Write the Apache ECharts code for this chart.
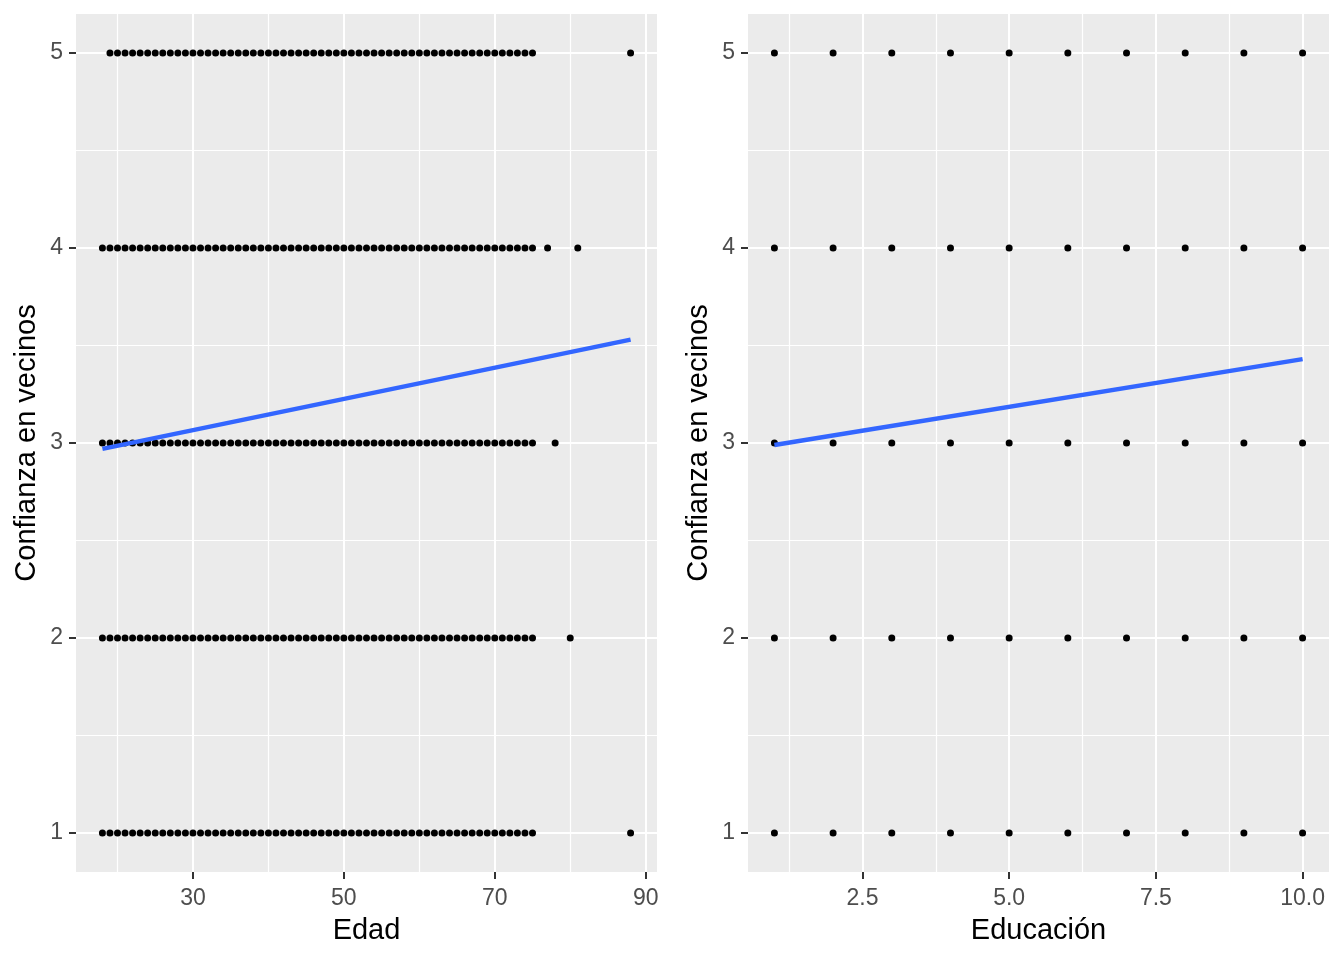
<!DOCTYPE html>
<html>
<head>
<meta charset="utf-8">
<script src="https://cdn.jsdelivr.net/npm/echarts@6/dist/echarts.min.js"></script>
<style>
  html, body { margin: 0; padding: 0; background: #fff; }
  #main { width: 1344px; height: 960px; }
</style>
</head>
<body>
<div id="main"></div>
<script>
// edades observadas por nivel de confianza (1..5)
var edad1 = [18,19,20,21,22,23,24,25,26,27,28,29,30,31,32,33,34,35,36,37,38,39,40,41,42,43,44,45,46,47,48,49,50,51,52,53,54,55,56,57,58,59,60,61,62,63,64,65,66,67,68,69,70,71,72,73,74,75,88];
var edad2 = [18,19,20,21,22,23,24,25,26,27,28,29,30,31,32,33,34,35,36,37,38,39,40,41,42,43,44,45,46,47,48,49,50,51,52,53,54,55,56,57,58,59,60,61,62,63,64,65,66,67,68,69,70,71,72,73,74,75,80];
var edad3 = [18,19,20,21,22,23,24,25,26,27,28,29,30,31,32,33,34,35,36,37,38,39,40,41,42,43,44,45,46,47,48,49,50,51,52,53,54,55,56,57,58,59,60,61,62,63,64,65,66,67,68,69,70,71,72,73,74,75,78];
var edad4 = [18,19,20,21,22,23,24,25,26,27,28,29,30,31,32,33,34,35,36,37,38,39,40,41,42,43,44,45,46,47,48,49,50,51,52,53,54,55,56,57,58,59,60,61,62,63,64,65,66,67,68,69,70,71,72,73,74,75,77,81];
var edad5 = [19,20,21,22,23,24,25,26,27,28,29,30,31,32,33,34,35,36,37,38,39,40,41,42,43,44,45,46,47,48,49,50,51,52,53,54,55,56,57,58,59,60,61,62,63,64,65,66,67,68,69,70,71,72,73,74,75,88];

// niveles de educacion observados en cada nivel de confianza
var educ1 = [1,2,3,4,5,6,7,8,9,10];
var educ2 = [1,2,3,4,5,6,7,8,9,10];
var educ3 = [1,2,3,4,5,6,7,8,9,10];
var educ4 = [1,2,3,4,5,6,7,8,9,10];
var educ5 = [1,2,3,4,5,6,7,8,9,10];

// rectas de regresion (extremos)
var rectaEdad = [[18, 2.97], [88, 3.53]];
var rectaEduc = [[1, 2.99], [10, 3.43]];

// marcas de los ejes
var ticksEdad = [30, 50, 70, 90];
var menoresEdad = [20, 40, 60, 80];
var ticksEduc = [2.5, 5, 7.5, 10];
var menoresEduc = [1.25, 3.75, 6.25, 8.75];
var ticksConf = [1, 2, 3, 4, 5];
var menoresConf = [1.5, 2.5, 3.5, 4.5];

function pares(xs, nivel) {
    return xs.map(function (x) { return [x, nivel]; });
}
var puntosEdad = [].concat(pares(edad1, 1), pares(edad2, 2), pares(edad3, 3), pares(edad4, 4), pares(edad5, 5));
var puntosEduc = [].concat(pares(educ1, 1), pares(educ2, 2), pares(educ3, 3), pares(educ4, 4), pares(educ5, 5));

var fuente = 'Liberation Sans, Arial, sans-serif';

function ejeX(grid, min, max, ticks, name, fmt) {
    return {
        type: 'value', gridIndex: grid, min: min, max: max, position: 'bottom',
        name: name, nameLocation: 'middle', nameGap: 44,
        nameTextStyle: { color: '#000', fontSize: 29, fontFamily: fuente },
        axisLine: { show: false },
        axisTick: { show: true, customValues: ticks, length: 7, lineStyle: { color: '#333', width: 2 } },
        axisLabel: { customValues: ticks, margin: 15, color: '#4D4D4D', fontSize: 23, fontFamily: fuente, formatter: fmt },
        splitLine: { show: true, lineStyle: { color: '#fff', width: 2 } }
    };
}
function ejeXMenor(grid, min, max, ticks) {
    return {
        type: 'value', gridIndex: grid, min: min, max: max, position: 'bottom',
        axisLine: { show: false },
        axisTick: { show: false, customValues: ticks },
        axisLabel: { show: false, customValues: ticks },
        splitLine: { show: true, lineStyle: { color: '#fff', width: 1.2 } }
    };
}
function ejeY(grid) {
    return {
        type: 'value', gridIndex: grid, min: 0.8, max: 5.2, position: 'left',
        name: 'Confianza en vecinos', nameLocation: 'middle', nameGap: 35,
        nameTextStyle: { color: '#000', fontSize: 29, fontFamily: fuente },
        axisLine: { show: false },
        axisTick: { show: true, customValues: ticksConf, length: 7, lineStyle: { color: '#333', width: 2 } },
        axisLabel: { customValues: ticksConf, margin: 13, color: '#4D4D4D', fontSize: 23, fontFamily: fuente },
        splitLine: { show: true, lineStyle: { color: '#fff', width: 2 } }
    };
}
function ejeYMenor(grid) {
    return {
        type: 'value', gridIndex: grid, min: 0.8, max: 5.2, position: 'left',
        axisLine: { show: false },
        axisTick: { show: false, customValues: menoresConf },
        axisLabel: { show: false, customValues: menoresConf },
        splitLine: { show: true, lineStyle: { color: '#fff', width: 1.2 } }
    };
}

option = {
    backgroundColor: '#fff',
    animation: false,
    grid: [
        { left: 76, right: 687, top: 14, bottom: 88, show: true, backgroundColor: '#EBEBEB', borderWidth: 0 },
        { left: 748, right: 15, top: 14, bottom: 88, show: true, backgroundColor: '#EBEBEB', borderWidth: 0 }
    ],
    xAxis: [
        ejeX(0, 14.5, 91.5, ticksEdad, 'Edad'),
        ejeXMenor(0, 14.5, 91.5, menoresEdad),
        ejeX(1, 0.55, 10.45, ticksEduc, 'Educación', function (v) { return v.toFixed(1); }),
        ejeXMenor(1, 0.55, 10.45, menoresEduc)
    ],
    yAxis: [ejeY(0), ejeYMenor(0), ejeY(1), ejeYMenor(1)],
    series: [
        // edad
        { type: 'scatter', xAxisIndex: 0, yAxisIndex: 0, data: puntosEdad, symbolSize: 7, itemStyle: { color: '#000', opacity: 1 } },
        { type: 'line', xAxisIndex: 0, yAxisIndex: 0, data: rectaEdad, showSymbol: false, lineStyle: { color: '#3366FF', width: 4.5 } },
        // educacion
        { type: 'scatter', xAxisIndex: 2, yAxisIndex: 2, data: puntosEduc, symbolSize: 7, itemStyle: { color: '#000', opacity: 1 } },
        { type: 'line', xAxisIndex: 2, yAxisIndex: 2, data: rectaEduc, showSymbol: false, lineStyle: { color: '#3366FF', width: 4.5 } }
    ]
};

var myChart = echarts.init(document.getElementById('main'));
myChart.setOption(option);
</script>
</body>
</html>
